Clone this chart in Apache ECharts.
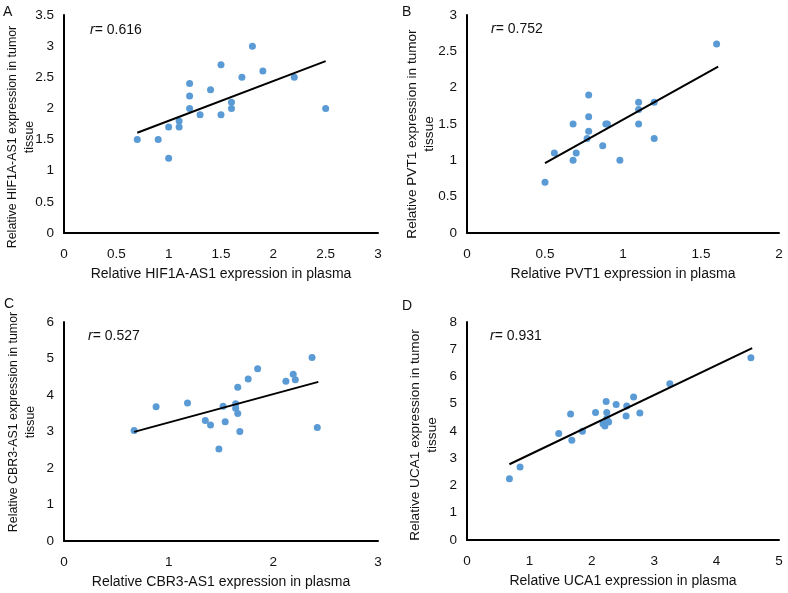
<!DOCTYPE html>
<html>
<head>
<meta charset="utf-8">
<script src="https://cdn.jsdelivr.net/npm/echarts@6/dist/echarts.min.js"></script>
<style>html,body{margin:0;padding:0;background:#fff}#c{width:788px;height:593px}</style>
</head>
<body>
<div id="c"></div>
<script>
// Panel A: HIF1A-AS1
var pointsA = [[0.70,1.5],[0.90,1.5],[1.0,1.2],[1.0,1.7],[1.1,1.8],[1.1,1.7],[1.2,2.4],[1.2,2.2],[1.2,2.0],[1.3,1.9],[1.4,2.3],[1.5,2.7],[1.5,1.9],[1.6,2.1],[1.6,2.0],[1.7,2.5],[1.8,3.0],[1.9,2.6],[2.2,2.5],[2.5,2.0]];
var trendA = [[0.70,1.61],[2.5,2.76]];
// Panel B: PVT1
var pointsB = [[0.50,0.7],[0.56,1.1],[0.68,1.0],[0.68,1.5],[0.70,1.1],[0.77,1.3],[0.78,1.4],[0.78,1.6],[0.78,1.9],[0.87,1.2],[0.89,1.5],[0.90,1.5],[0.98,1.0],[1.10,1.8],[1.10,1.7],[1.10,1.5],[1.20,1.8],[1.20,1.3],[1.60,2.6]];
var trendB = [[0.50,0.96],[1.61,2.29]];
// Panel C: CBR3-AS1
var pointsC = [[0.67,3.03],[0.88,3.68],[1.18,3.78],[1.35,3.30],[1.40,3.18],[1.48,2.52],[1.52,3.69],[1.54,3.27],[1.64,3.76],[1.64,3.64],[1.66,3.49],[1.66,4.21],[1.68,3.00],[1.76,4.44],[1.85,4.72],[2.12,4.38],[2.19,4.57],[2.21,4.42],[2.37,5.03],[2.42,3.11]];
var trendC = [[0.67,2.99],[2.43,4.36]];
// Panel D: UCA1
var pointsD = [[0.68,2.25],[0.85,2.68],[1.47,3.91],[1.66,4.62],[1.68,3.66],[1.85,3.99],[2.06,4.68],[2.18,4.27],[2.21,4.18],[2.23,5.08],[2.24,4.68],[2.24,4.46],[2.27,4.33],[2.39,4.97],[2.55,4.55],[2.56,4.92],[2.67,5.25],[2.77,4.66],[3.25,5.73],[4.55,6.69]];
var trendD = [[0.68,2.78],[4.57,7.04]];

var rValues = ['0.616','0.752','0.527','0.931'];
var panelLetters = ['A','B','C','D'];
var xTitles = ['Relative HIF1A-AS1 expression in plasma','Relative PVT1 expression in plasma','Relative CBR3-AS1 expression in plasma','Relative UCA1 expression in plasma'];
var yTitles = ['Relative HIF1A-AS1 expression in tumor\ntissue','Relative PVT1 expression in tumor\ntissue','Relative CBR3-AS1 expression in tumor\ntissue','Relative UCA1 expression in tumor\ntissue'];
var xMax = [3,2,3,5], xInt = [0.5,0.5,1,1];
var yMax = [3.5,3,6,8], yInt = [0.5,0.5,1,1];

var FONT = '"Liberation Sans", Arial, sans-serif';
var grids = [
  {left:64, top:15, width:314, height:218},
  {left:467, top:15, width:312, height:218},
  {left:64, top:322, width:314, height:219},
  {left:467, top:322, width:312, height:218}
];
var allPoints = [pointsA,pointsB,pointsC,pointsD];
var allTrends = [trendA,trendB,trendC,trendD];

var xAxes = [], yAxes = [], series = [], graphics = [];
var rPos = [[90,31],[491,30],[88,337],[490,337]];
var letterPos = [[3,5],[402,5],[4,297],[402,299]];
var yTitlePos = [[21,137],[421,134],[22,422],[424,435]];
var yTitleSize = [12.4,13.6,12.4,13.6];
for (var i=0;i<4;i++){
  xAxes.push({gridIndex:i, type:'value', min:0, max:xMax[i], interval:xInt[i],
    axisLine:{show:true, lineStyle:{color:'#000', width:2}}, axisTick:{show:false}, splitLine:{show:false},
    axisLabel:{color:'#111', fontSize:13.5, fontFamily:FONT, margin:14},
    name:xTitles[i], nameLocation:'middle', nameGap:34,
    nameTextStyle:{color:'#111', fontSize:14, fontFamily:FONT}});
  yAxes.push({gridIndex:i, type:'value', min:0, max:yMax[i], interval:yInt[i],
    axisLine:{show:true, lineStyle:{color:'#000', width:2}}, axisTick:{show:false}, splitLine:{show:false},
    axisLabel:{color:'#111', fontSize:13.5, fontFamily:FONT, margin:10}});
  series.push({type:'scatter', xAxisIndex:i, yAxisIndex:i, data:allPoints[i], symbolSize:7,
    itemStyle:{color:'#5B9BD5', opacity:1}, z:3});
  series.push({type:'line', xAxisIndex:i, yAxisIndex:i, data:allTrends[i], symbol:'none',
    lineStyle:{color:'#000', width:2}, z:4, silent:true});
  graphics.push({type:'text', left:rPos[i][0], top:rPos[i][1]-8,
    style:{text:'{i|r}= '+rValues[i], font:'14px '+FONT, fill:'#111',
      rich:{i:{fontStyle:'italic', fontSize:14, fontFamily:FONT, fill:'#111'}}}});
  graphics.push({type:'text', left:letterPos[i][0], top:letterPos[i][1],
    style:{text:panelLetters[i], font:'14px '+FONT, fill:'#111'}});
  graphics.push({type:'text', x:yTitlePos[i][0], y:yTitlePos[i][1], rotation:Math.PI/2,
    style:{text:yTitles[i], font:yTitleSize[i]+'px '+FONT, fill:'#111', align:'center', verticalAlign:'middle', lineHeight:17}});
}

var chart = echarts.init(document.getElementById('c'));
chart.setOption({
  animation:false,
  backgroundColor:'#fff',
  grid:grids, xAxis:xAxes, yAxis:yAxes, series:series, graphic:graphics
});
</script>
</body>
</html>
